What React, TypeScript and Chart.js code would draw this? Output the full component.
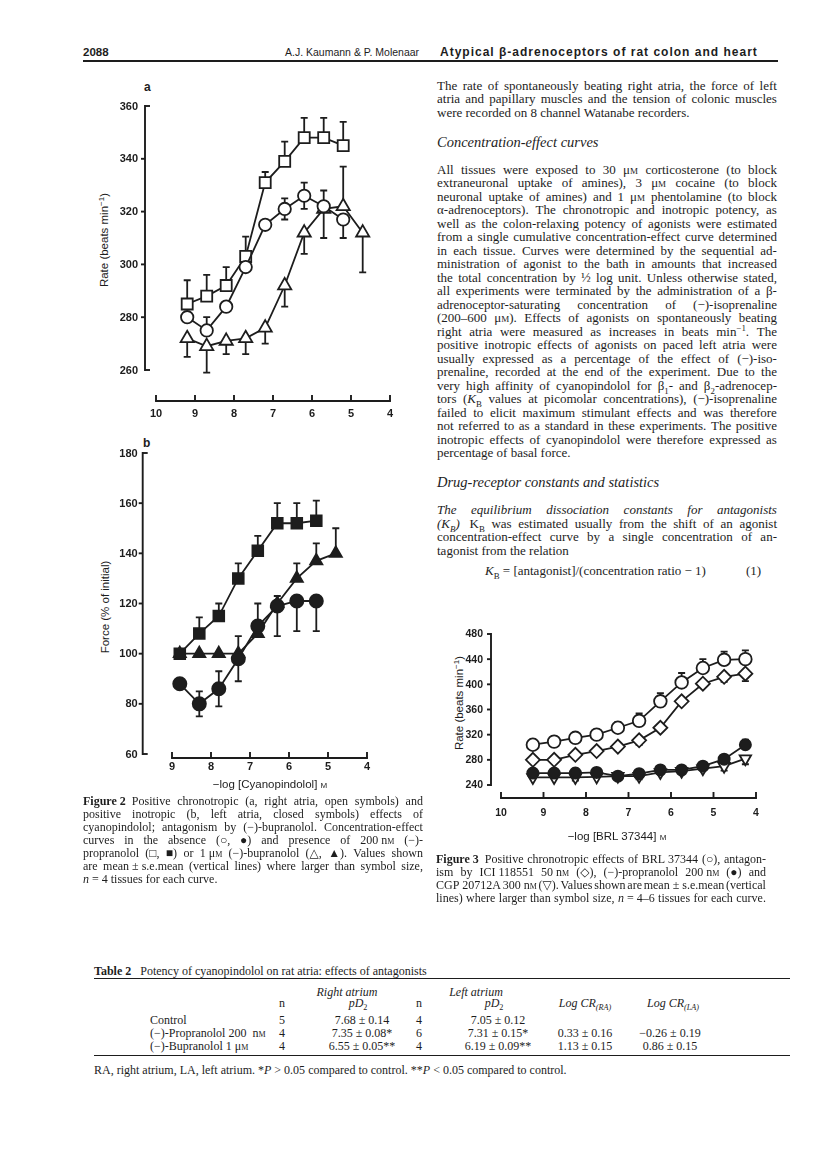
import React, { useEffect, useRef } from "react";
import { Chart, registerables } from "chart.js";
Chart.register(...registerables);

const INK = "#1d1d1d";
const SERIF = '"Liberation Serif", "Times New Roman", "DejaVu Serif", serif';
const SANS = '"Liberation Sans", Arial, "DejaVu Sans", sans-serif';

// ---------- Figure 2a : right atria, rate (beats/min) ----------
const fig2aXTicks = [10, 9, 8, 7, 6, 5, 4];
const fig2aYTicks = [260, 280, 300, 320, 340, 360];
const fig2aConc = [9.2, 8.7, 8.2, 7.7, 7.2, 6.7, 6.2, 5.7, 5.2];
const fig2aConcBup = [9.2, 8.7, 8.2, 7.7, 7.2, 6.7, 6.2, 5.7, 5.2, 4.7];
const fig2aControl = [280, 275, 284, 299, 315, 321, 326, 322, 317];
const fig2aControlUp = [0, 5, 0, 2, 0, 4, 5, 0, 0];
const fig2aControlDn = [0, 0, 0, 0, 0, 4, 5, 0, 7];
const fig2aProp = [285, 288, 292, 303, 331, 339, 348, 348, 345];
const fig2aPropUp = [9, 8, 7, 7.5, 4, 7.5, 7.5, 7.5, 9];
const fig2aPropDn = [0, 0, 0, 0, 0, 0, 0, 0, 0];
const fig2aBup = [272, 269, 271, 272, 276, 292, 312, 321, 322, 312];
const fig2aBupUp = [0, 0, 0, 0, 0, 0, 0, 7, 15, 0];
const fig2aBupDn = [7, 10, 5, 6, 6, 8, 8, 11, 0, 15];

// ---------- Figure 2b : left atria, force (% of initial) ----------
const fig2bXTicks = [9, 8, 7, 6, 5, 4];
const fig2bYTicks = [60, 80, 100, 120, 140, 160, 180];
const fig2bConc = [8.8, 8.3, 7.8, 7.3, 6.8, 6.3, 5.8, 5.3];
const fig2bConcBup = [8.8, 8.3, 7.8, 7.3, 6.8, 6.3, 5.8, 5.3, 4.8];
const fig2bControl = [88, 80, 86, 98, 111, 119, 121, 121];
const fig2bControlUp = [0, 5, 7, 9, 9, 4, 0, 0];
const fig2bControlDn = [0, 5, 7, 9, 0, 12, 12, 12];
const fig2bProp = [100, 108, 115, 130, 141, 152, 152, 153];
const fig2bPropUp = [0, 6.5, 5, 6, 6, 8, 8, 8];
const fig2bPropDn = [0, 0, 0, 0, 0, 0, 0, 0];
const fig2bBup = [100, 100, 100, 100, 108, 120, 130, 137, 140];
const fig2bBupUp = [0, 0, 0, 0, 0, 0, 6, 7, 10];
const fig2bBupDn = [0, 0, 0, 0, 0, 0, 0, 0, 0];

// ---------- Figure 3 : BRL 37344, rate (beats/min) ----------
const fig3XTicks = [10, 9, 8, 7, 6, 5, 4];
const fig3YTicks = [240, 280, 320, 360, 400, 440, 480];
const fig3Conc = [9.25, 8.75, 8.25, 7.75, 7.25, 6.75, 6.25, 5.75, 5.25, 4.75, 4.25];
const fig3Brl = [304, 309, 315, 320, 331, 342, 373, 403, 426, 439, 440];
const fig3BrlUp = [8, 8, 8, 8, 9, 12, 13, 15, 14, 13, 14];
const fig3BrlDn = [0, 0, 0, 0, 0, 0, 0, 0, 0, 0, 0];
const fig3Ici = [280, 280, 288, 294, 301, 311, 331, 373, 401, 412, 417];
const fig3IciUp = [0, 0, 0, 0, 0, 0, 0, 0, 0, 0, 0];
const fig3IciDn = [0, 0, 4, 6, 0, 7, 0, 0, 0, 8, 12];
const fig3Prop = [259, 259, 259, 260, 254, 258, 264, 264, 270, 281, 304];
const fig3PropUp = [6, 6, 7, 7, 5, 6, 6, 6, 6, 7, 8];
const fig3PropDn = [6, 6, 7, 7, 5, 6, 6, 6, 6, 0, 0];
const fig3Cgp = [252, 252, 252, 253, 254, 254, 260, 262, 266, 270, 282];
const fig3CgpUp = [0, 0, 0, 0, 0, 0, 0, 0, 0, 0, 0];
const fig3CgpDn = [0, 0, 5, 0, 0, 5, 0, 0, 0, 7, 9];

type Series = {
  x: number[]; y: number[]; up: number[]; dn: number[];
  style: string; fill: boolean; r: number; rot?: number;
};
type Box = { left: number; top: number; width: number; height: number };
type Area = { left: number; right: number; top: number; bottom: number };
type PanelCfg = {
  box: Box; area: Area; xMin: number; xMax: number; yMin: number; yMax: number;
  series: Series[];
  axes: {
    xTicks: number[]; yTicks: number[]; yAxisDx: number; xAxisDy: number;
    xLabelDy: number; yLabelGap: number; font: string; capIn: boolean;
  };
};

const errBars = {
  id: "errBars",
  beforeDatasetsDraw(chart: any) {
    const ctx = chart.ctx;
    const xs = chart.scales.x;
    const ys = chart.scales.y;
    ctx.save();
    ctx.strokeStyle = INK;
    ctx.lineWidth = 1.8;
    chart.data.datasets.forEach((ds: any) => {
      ds.data.forEach((p: any, i: number) => {
        const px = xs.getPixelForValue(p.x);
        const segs: number[] = [];
        if (ds.errUp && ds.errUp[i]) segs.push(p.y + ds.errUp[i]);
        if (ds.errDn && ds.errDn[i]) segs.push(p.y - ds.errDn[i]);
        segs.forEach((v) => {
          const py = ys.getPixelForValue(p.y);
          const ey = ys.getPixelForValue(v);
          ctx.beginPath();
          ctx.moveTo(px, py);
          ctx.lineTo(px, ey);
          ctx.moveTo(px - 3.5, ey);
          ctx.lineTo(px + 3.5, ey);
          ctx.stroke();
        });
      });
    });
    ctx.restore();
  },
};

const sepAxes = {
  id: "sepAxes",
  afterDraw(chart: any, _a: any, o: any) {
    const ctx = chart.ctx;
    const ca = chart.chartArea;
    const xs = chart.scales.x;
    const ys = chart.scales.y;
    const lw = 1.9;
    ctx.save();
    ctx.strokeStyle = INK;
    ctx.fillStyle = INK;
    ctx.lineWidth = lw;
    // y axis
    const ax = ca.left + o.yAxisDx;
    const yT = ys.getPixelForValue(Math.max(...o.yTicks));
    const yB = ys.getPixelForValue(Math.min(...o.yTicks));
    ctx.beginPath();
    ctx.moveTo(ax, yT - lw / 2);
    ctx.lineTo(ax, yB + lw / 2);
    ctx.stroke();
    o.yTicks.forEach((v: number, i: number) => {
      const y = ys.getPixelForValue(v);
      ctx.beginPath();
      const end = i === 0 || i === o.yTicks.length - 1;
      if (o.capIn && end) {
        ctx.moveTo(ax, y);
        ctx.lineTo(ax + 5, y);
      } else {
        ctx.moveTo(ax - 4, y);
        ctx.lineTo(ax, y);
      }
      ctx.stroke();
    });
    ctx.font = o.font;
    ctx.textAlign = "right";
    ctx.textBaseline = "middle";
    o.yTicks.forEach((v: number) => {
      ctx.fillText(String(v), ax - o.yLabelGap, ys.getPixelForValue(v) + 0.5);
    });
    // x axis
    const ay = ca.bottom + o.xAxisDy;
    const xa = xs.getPixelForValue(o.xTicks[0]);
    const xb = xs.getPixelForValue(o.xTicks[o.xTicks.length - 1]);
    ctx.beginPath();
    ctx.moveTo(Math.min(xa, xb) - lw / 2, ay);
    ctx.lineTo(Math.max(xa, xb) + lw / 2, ay);
    ctx.stroke();
    o.xTicks.forEach((v: number) => {
      const x = xs.getPixelForValue(v);
      ctx.beginPath();
      ctx.moveTo(x, ay);
      ctx.lineTo(x, ay - 6);
      ctx.stroke();
    });
    ctx.textAlign = "center";
    o.xTicks.forEach((v: number) => {
      ctx.fillText(String(v), xs.getPixelForValue(v), ay + o.xLabelDy);
    });
    ctx.restore();
  },
};

function Panel({ cfg }: { cfg: PanelCfg }) {
  const ref = useRef<HTMLCanvasElement>(null);
  useEffect(() => {
    const { box, area } = cfg;
    const chart = new Chart(ref.current as HTMLCanvasElement, {
      type: "line",
      data: {
        datasets: cfg.series.map((s) => ({
          data: s.x.map((x, i) => ({ x, y: s.y[i] })),
          borderColor: INK,
          borderWidth: 1.8,
          pointStyle: s.style,
          pointRadius: s.r,
          pointHoverRadius: s.r,
          pointRotation: s.rot || 0,
          pointBackgroundColor: s.fill ? INK : "#ffffff",
          pointBorderColor: INK,
          pointBorderWidth: 1.8,
          tension: 0,
          fill: false,
          clip: false,
          errUp: s.up,
          errDn: s.dn,
        })) as any,
      },
      options: {
        animation: false,
        responsive: false,
        maintainAspectRatio: false,
        events: [],
        layout: {
          padding: {
            left: area.left - box.left,
            right: box.left + box.width - area.right,
            top: area.top - box.top,
            bottom: box.top + box.height - area.bottom,
          },
        },
        scales: {
          x: { type: "linear", min: cfg.xMin, max: cfg.xMax, reverse: true, display: false },
          y: { type: "linear", min: cfg.yMin, max: cfg.yMax, display: false },
        },
        plugins: {
          legend: { display: false },
          tooltip: { enabled: false },
          sepAxes: cfg.axes,
        } as any,
      },
      plugins: [errBars, sepAxes],
    });
    return () => chart.destroy();
  }, []);
  const b = cfg.box;
  return (
    <canvas
      ref={ref}
      width={b.width}
      height={b.height}
      style={{ position: "absolute", left: b.left, top: b.top, width: b.width, height: b.height }}
    />
  );
}

const mk = (x: number[], y: number[], up: number[], dn: number[], style: string, fill: boolean, r: number, rot = 0): Series =>
  ({ x, y, up, dn, style, fill, r, rot });

const cfgA: PanelCfg = {
  box: { left: 70, top: 75, width: 350, height: 350 },
  area: { left: 156, right: 390, top: 106, bottom: 370 },
  xMin: 4, xMax: 10, yMin: 260, yMax: 360,
  series: [
    mk(fig2aConc, fig2aControl, fig2aControlUp, fig2aControlDn, "circle", false, 6.2),
    mk(fig2aConc, fig2aProp, fig2aPropUp, fig2aPropDn, "rect", false, 7.8),
    mk(fig2aConcBup, fig2aBup, fig2aBupUp, fig2aBupDn, "triangle", false, 7.6),
  ],
  axes: {
    xTicks: fig2aXTicks, yTicks: fig2aYTicks, yAxisDx: -11, xAxisDy: 31, xLabelDy: 13,
    yLabelGap: 7, font: `bold 11px ${SANS}`, capIn: true,
  },
};

const cfgB: PanelCfg = {
  box: { left: 70, top: 430, width: 350, height: 350 },
  area: { left: 172, right: 367, top: 453, bottom: 754 },
  xMin: 4, xMax: 9, yMin: 60, yMax: 180,
  series: [
    mk(fig2bConc, fig2bControl, fig2bControlUp, fig2bControlDn, "circle", true, 6.6),
    mk(fig2bConc, fig2bProp, fig2bPropUp, fig2bPropDn, "rect", true, 7.6),
    mk(fig2bConcBup, fig2bBup, fig2bBupUp, fig2bBupDn, "triangle", true, 7),
  ],
  axes: {
    xTicks: fig2bXTicks, yTicks: fig2bYTicks, yAxisDx: -29.3, xAxisDy: 4, xLabelDy: 9,
    yLabelGap: 5, font: `bold 11px ${SANS}`, capIn: true,
  },
};

const cfg3: PanelCfg = {
  box: { left: 430, top: 610, width: 360, height: 230 },
  area: { left: 501, right: 756, top: 634, bottom: 785 },
  xMin: 4, xMax: 10, yMin: 240, yMax: 480,
  series: [
    mk(fig3Conc, fig3Brl, fig3BrlUp, fig3BrlDn, "circle", false, 6.3),
    mk(fig3Conc, fig3Ici, fig3IciUp, fig3IciDn, "rectRot", false, 7),
    mk(fig3Conc, fig3Prop, fig3PropUp, fig3PropDn, "circle", true, 5.6),
    mk(fig3Conc, fig3Cgp, fig3CgpUp, fig3CgpDn, "triangle", false, 6.6, 180),
  ],
  axes: {
    xTicks: fig3XTicks, yTicks: fig3YTicks, yAxisDx: -10, xAxisDy: 13, xLabelDy: 15,
    yLabelGap: 8, font: `bold 10.5px ${SANS}`, capIn: false,
  },
};

// ---------- markup text helpers ----------
// ` italic, § bold, ^ superscript, _ subscript, ~ small caps
function parseLine(s: string): React.ReactNode[][] {
  const words: React.ReactNode[][] = [];
  let cur: React.ReactNode[] = [];
  let buf = "";
  const st = { i: false, b: false, sup: false, sub: false, sc: false };
  let k = 0;
  const flush = () => {
    if (!buf) return;
    const style: React.CSSProperties = {};
    if (st.i) style.fontStyle = "italic";
    if (st.b) style.fontWeight = "bold";
    if (st.sc) style.fontVariant = "small-caps";
    if (st.sup) { style.verticalAlign = "super"; style.fontSize = "0.68em"; style.lineHeight = 0; }
    if (st.sub) { style.verticalAlign = "sub"; style.fontSize = "0.68em"; style.lineHeight = 0; }
    cur.push(<span key={k++} style={style}>{buf}</span>);
    buf = "";
  };
  for (const ch of s) {
    if (ch === "`") { flush(); st.i = !st.i; }
    else if (ch === "§") { flush(); st.b = !st.b; }
    else if (ch === "^") { flush(); st.sup = !st.sup; }
    else if (ch === "_") { flush(); st.sub = !st.sub; }
    else if (ch === "~") { flush(); st.sc = !st.sc; }
    else if (ch === " ") { flush(); if (cur.length) words.push(cur); cur = []; }
    else buf += ch;
  }
  flush();
  if (cur.length) words.push(cur);
  return words;
}

function TLine({ x, y, w, text, fs, lh, j, font = SERIF, align = "left", ls = 0 }:
  { x: number; y: number; w?: number; text: string; fs: number; lh: number; j?: boolean; font?: string; align?: string; ls?: number }) {
  const words = parseLine(text);
  const base: React.CSSProperties = {
    position: "absolute", top: y - lh / 2, height: lh, lineHeight: lh + "px",
    fontSize: fs, fontFamily: font, whiteSpace: "nowrap", letterSpacing: ls,
  };
  if (j && w) {
    return (
      <div style={{ ...base, left: x, width: w, display: "flex", justifyContent: "space-between" }}>
        {words.map((wd, i) => <span key={i}>{wd}</span>)}
      </div>
    );
  }
  const content: React.ReactNode[] = [];
  words.forEach((wd, i) => { if (i) content.push(" "); content.push(<span key={i}>{wd}</span>); });
  if (align === "center" && w) {
    return <div style={{ ...base, left: x - w / 2, width: w, textAlign: "center" }}>{content}</div>;
  }
  return <div style={{ ...base, left: x }}>{content}</div>;
}

function Para({ x, y0, w, lh, fs, lines, lastJ = false }:
  { x: number; y0: number; w: number; lh: number; fs: number; lines: string[]; lastJ?: boolean }) {
  return (
    <>
      {lines.map((t, i) => (
        <TLine key={i} x={x} y={y0 + i * lh} w={w} text={t} fs={fs} lh={lh}
          j={i < lines.length - 1 || lastJ} />
      ))}
    </>
  );
}

const NB = "\u00a0";
const para1 = [
  "The rate of spontaneously beating right atria, the force of left",
  "atria and papillary muscles and the tension of colonic muscles",
  "were recorded on 8 channel Watanabe recorders.",
];
const para2 = [
  "All tissues were exposed to 30 μ~m~ corticosterone (to block",
  "extraneuronal uptake of amines), 3 μ~m~ cocaine (to block",
  "neuronal uptake of amines) and 1 μ~m~ phentolamine (to block",
  "α-adrenoceptors). The chronotropic and inotropic potency, as",
  "well as the colon-relaxing potency of agonists were estimated",
  "from a single cumulative concentration-effect curve determined",
  "in each tissue. Curves were determined by the sequential ad-",
  "ministration of agonist to the bath in amounts that increased",
  "the total concentration by ½ log unit. Unless otherwise stated,",
  "all experiments were terminated by the administration of a β-",
  "adrenoceptor-saturating concentration of (−)-isoprenaline",
  "(200–600 μ~m~). Effects of agonists on spontaneously beating",
  "right atria were measured as increases in beats min^−1^. The",
  "positive inotropic effects of agonists on paced left atria were",
  "usually expressed as a percentage of the effect of (−)-iso-",
  "prenaline, recorded at the end of the experiment. Due to the",
  "very high affinity of cyanopindolol for β_1_- and β_2_-adrenocep-",
  "tors (`K`_B_ values at picomolar concentrations), (−)-isoprenaline",
  "failed to elicit maximum stimulant effects and was therefore",
  "not referred to as a standard in these experiments. The positive",
  "inotropic effects of cyanopindolol were therefore expressed as",
  "percentage of basal force.",
];
const para3 = [
  "`The equilibrium dissociation constants for antagonists`",
  `\`(K_B_)\`${NB}${NB}${NB}K_B_ was estimated usually from the shift of an agonist`,
  "concentration-effect curve by a single concentration of an-",
  "tagonist from the relation",
];
const cap2 = [
  `§Figure${NB}2§${NB}${NB}Positive chronotropic (a, right atria, open symbols) and`,
  "positive inotropic (b, left atria, closed symbols) effects of",
  "cyanopindolol; antagonism by (−)-bupranolol. Concentration-effect",
  `curves in the absence (○, ●) and presence of 200${NB}n~m~ (−)-`,
  `propranolol (□, ■) or 1${NB}μ~m~ (−)-bupranolol (△, ▲). Values shown`,
  `are mean${NB}±${NB}s.e.mean (vertical lines) where larger than symbol size,`,
  `\`n\`${NB}=${NB}4 tissues for each curve.`,
];
const cap3 = [
  `§Figure${NB}3§${NB}${NB}Positive chronotropic effects of BRL${NB}37344 (○), antagon-`,
  `ism by ICI${NB}118551 50${NB}n~m~ (◇), (−)-propranolol 200${NB}n~m~ (●) and`,
  `CGP${NB}20712A 300${NB}n~m~ (▽). Values shown are mean${NB}±${NB}s.e.mean (vertical`,
  `lines) where larger than symbol size, \`n\`${NB}=${NB}4–6 tissues for each curve.`,
];

// ---------- Table 2 ----------
const tblTitle = `§Table${NB}2§${NB}${NB} Potency of cyanopindolol on rat atria: effects of antagonists`;
const tblRows = ["Control", `(−)-Propranolol 200${NB}${NB}n~m~`, `(−)-Bupranolol 1${NB}μ~m~`];
const tblNRA = ["5", "4", "4"];
const tblPD2RA = [`7.68${NB}±${NB}0.14`, `7.35${NB}±${NB}0.08*`, `6.55${NB}±${NB}0.05**`];
const tblNLA = ["4", "6", "4"];
const tblPD2LA = [`7.05${NB}±${NB}0.12`, `7.31${NB}±${NB}0.15*`, `6.19${NB}±${NB}0.09**`];
const tblCRRA = ["", `0.33${NB}±${NB}0.16`, `1.13${NB}±${NB}0.15`];
const tblCRLA = ["", `−0.26${NB}±${NB}0.19`, `0.86${NB}±${NB}0.15`];
const tblFoot = `RA, right atrium, LA, left atrium. *\`P\`${NB}>${NB}0.05 compared to control. **\`P\`${NB}<${NB}0.05 compared to control.`;

function Rotated({ cx, cy, children }: { cx: number; cy: number; children: React.ReactNode }) {
  return (
    <div style={{
      position: "absolute", left: cx, top: cy, transform: "translate(-50%, -50%) rotate(-90deg)",
      whiteSpace: "nowrap", fontFamily: SANS, fontSize: 11.5, lineHeight: "14px",
    }}>{children}</div>
  );
}

export default function App() {
  const LH = 13.5;
  const FS = 13;
  const RX = 437, RW = 340;
  const rowY = [1020, 1033, 1046];
  const C = (x: number, y: number, t: string, fs = 12, w = 160) =>
    <TLine key={t + x + y} x={x} y={y} w={w} text={t} fs={fs} lh={13} align="center" />;
  return (
    <div style={{
      position: "absolute", left: 0, top: 0, width: 816, height: 1157, background: "#fff",
      color: INK, fontFamily: SERIF, overflow: "hidden",
    }}>
      {/* running head */}
      <TLine x={83} y={52} text="§2088§" fs={11.5} lh={14} font={SANS} />
      <TLine x={285} y={52} text="A.J. Kaumann & P. Molenaar" fs={10.5} lh={14} font={SANS} />
      <TLine x={440} y={52} text="§Atypical β-adrenoceptors of rat colon and heart§" fs={12} lh={14} font={SANS} ls={1.0} />
      <div style={{ position: "absolute", left: 83, top: 60, width: 695, height: 1.6, background: INK }} />

      {/* Figure 2 */}
      <div style={{ position: "absolute", left: 144, top: 80, fontFamily: SANS, fontWeight: "bold", fontSize: 12, lineHeight: "14px" }}>a</div>
      <Rotated cx={103} cy={240}>Rate (beats min<sup style={{ fontSize: "0.7em" }}>−1</sup>)</Rotated>
      <Panel cfg={cfgA} />
      <div style={{ position: "absolute", left: 143, top: 436, fontFamily: SANS, fontWeight: "bold", fontSize: 12, lineHeight: "14px" }}>b</div>
      <Rotated cx={105} cy={607}>Force (% of initial)</Rotated>
      <Panel cfg={cfgB} />
      <TLine x={270} y={784} w={220} text="−log [Cyanopindolol] ~m~" fs={11.5} lh={14} font={SANS} align="center" />
      <Para x={83} y0={801} w={340} lh={13} fs={12} lines={cap2} />

      {/* right column text */}
      <Para x={RX} y0={85.5} w={RW} lh={LH} fs={FS} lines={para1} />
      <TLine x={RX} y={141.5} text="`Concentration-effect curves`" fs={14.5} lh={16} />
      <Para x={RX} y0={169.5} w={RW} lh={LH} fs={FS} lines={para2} />
      <TLine x={RX} y={482} text="`Drug-receptor constants and statistics`" fs={14.5} lh={16} />
      <Para x={RX} y0={510} w={RW} lh={LH} fs={FS} lines={para3} />
      <TLine x={485} y={570} text="`K`_B_ = [antagonist]/(concentration ratio − 1)" fs={13} lh={15} />
      <TLine x={746} y={570} text="(1)" fs={13} lh={15} />

      {/* Figure 3 */}
      <Rotated cx={458} cy={703}>Rate (beats min<sup style={{ fontSize: "0.7em" }}>−1</sup>)</Rotated>
      <Panel cfg={cfg3} />
      <TLine x={617} y={836} w={220} text="−log [BRL 37344] ~m~" fs={11.5} lh={14} font={SANS} align="center" />
      <Para x={436} y0={859} w={330} lh={13} fs={12} lines={cap3} lastJ />

      {/* Table 2 */}
      <TLine x={94} y={971} text={tblTitle} fs={12} lh={14} />
      <div style={{ position: "absolute", left: 94, top: 977.5, width: 696, height: 1.4, background: INK }} />
      {C(347, 992, "`Right atrium`")}
      {C(476, 992, "`Left atrium`")}
      {C(282, 1003, "n")}
      {C(358, 1003, "`pD`_2_")}
      {C(419, 1003, "n")}
      {C(494, 1003, "`pD`_2_")}
      {C(585, 1003, "`Log CR`_`(RA)`_")}
      {C(673, 1003, "`Log CR`_`(LA)`_")}
      {tblRows.map((r, i) => <TLine key={"r" + i} x={150} y={rowY[i]} text={r} fs={12} lh={13} />)}
      {tblNRA.map((t, i) => C(282, rowY[i], t))}
      {tblPD2RA.map((t, i) => C(362, rowY[i], t))}
      {tblNLA.map((t, i) => C(419, rowY[i], t))}
      {tblPD2LA.map((t, i) => C(498, rowY[i], t))}
      {tblCRRA.map((t, i) => (t ? C(585, rowY[i], t) : null))}
      {tblCRLA.map((t, i) => (t ? C(670, rowY[i], t) : null))}
      <div style={{ position: "absolute", left: 94, top: 1055, width: 696, height: 1, background: INK }} />
      <TLine x={94} y={1070} text={tblFoot} fs={12} lh={13} />
    </div>
  );
}
